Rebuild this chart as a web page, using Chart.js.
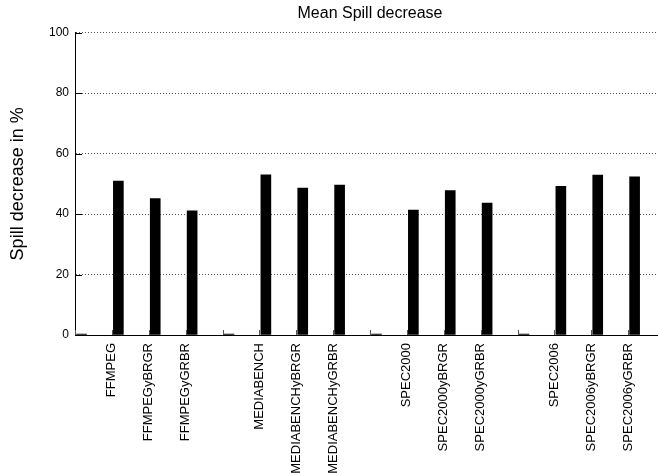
<!DOCTYPE html>
<html>
<head>
<meta charset="utf-8">
<title>Mean Spill decrease</title>
<script src="https://cdn.jsdelivr.net/npm/chart.js@4.4.1/dist/chart.umd.min.js"></script>
<style>
  html, body { margin: 0; padding: 0; background: #fff; overflow: hidden; }
  #clip { width: 658px; height: 473px; overflow: hidden; }
  #wrap { width: 668px; height: 473px; position: relative; }
</style>
</head>
<body>
<div id="clip"><div id="wrap"><canvas id="chart"></canvas></div></div>
<script>
// Benchmark suites, each opened by an unlabeled group slot
const categories = [
  "", "FFMPEG", "FFMPEGyBRGR", "FFMPEGyGRBR",
  "", "MEDIABENCH", "MEDIABENCHyBRGR", "MEDIABENCHyGRBR",
  "", "SPEC2000", "SPEC2000yBRGR", "SPEC2000yGRBR",
  "", "SPEC2006", "SPEC2006yBRGR", "SPEC2006yGRBR"
];
// Mean spill decrease in percent
const spillDecrease = [
  0.3, 50.9, 45.1, 41.1,
  0.3, 53.0, 48.6, 49.6,
  0.3, 41.3, 47.8, 43.6,
  0.3, 49.2, 52.9, 52.3
];
const yTicks = [0, 20, 40, 60, 80, 100];

Chart.defaults.font.family = "'Liberation Sans', Arial, Helvetica, sans-serif";
Chart.defaults.color = '#000';

// gnuplot-style tic marks pointing into the plot
const inwardTicks = {
  id: 'inwardTicks',
  afterDatasetsDraw(chart) {
    const { ctx, chartArea: a, scales } = chart;
    ctx.save();
    ctx.lineWidth = 1;
    ctx.strokeStyle = '#000';
    ctx.beginPath();
    scales.y.ticks.forEach((t, i) => {
      const y = Math.round(scales.y.getPixelForTick(i)) + 0.5;
      ctx.moveTo(a.left, y);
      ctx.lineTo(a.left + 7, y);
    });
    ctx.stroke();
    ctx.strokeStyle = '#555';
    ctx.beginPath();
    scales.x.ticks.forEach((t, i) => {
      const x = Math.round(scales.x.getPixelForTick(i)) + 0.5;
      ctx.moveTo(x, a.bottom);
      ctx.lineTo(x, a.bottom - 5);
    });
    ctx.stroke();
    ctx.restore();
  }
};

new Chart(document.getElementById('chart'), {
  type: 'bar',
  data: {
    labels: categories.concat([""]),
    datasets: [{
      label: 'Mean Spill decrease',
      data: spillDecrease.map((v, i) => ({ x: i, y: v })),
      xAxisID: 'xb',
      backgroundColor: '#000',
      borderWidth: 0,
      barThickness: 10
    }]
  },
  options: {
    responsive: true,
    maintainAspectRatio: false,
    animation: false,
    layout: { padding: { left: 0, right: 3, top: 0, bottom: 0 } },
    plugins: {
      legend: { display: false },
      tooltip: { enabled: false },
      title: {
        display: true,
        text: 'Mean Spill decrease',
        fullSize: false,
        font: { size: 16, weight: 'normal' },
        color: '#000',
        padding: { top: 4, bottom: 9.5 }
      }
    },
    scales: {
      x: {
        type: 'category',
        offset: false,
        grid: { display: false, drawTicks: false },
        border: { display: true, color: '#000', width: 1 },
        ticks: {
          autoSkip: false,
          minRotation: 90,
          maxRotation: 90,
          padding: 8,
          font: { size: 13 },
          color: '#000'
        },
        afterFit(scale) {
          scale.height = 138;
          scale.paddingLeft = 0;
          scale.paddingRight = 0;
        }
      },
      // bars sit just to the right of their tic, histogram style
      xb: {
        type: 'linear',
        display: false,
        min: -0.176,
        max: 15.824,
        offset: false,
        grid: { display: false }
      },
      y: {
        min: 0,
        max: 100,
        afterBuildTicks(scale) { scale.ticks = yTicks.map(v => ({ value: v })); },
        grid: {
          color: '#555',
          lineWidth: 1,
          drawTicks: false
        },
        border: { display: true, color: '#000', width: 1, dash: [1, 2] },
        ticks: {
          padding: 6,
          font: { size: 12 },
          color: '#000'
        },
        title: {
          display: true,
          text: 'Spill decrease in %',
          font: { size: 18 },
          color: '#000',
          padding: { top: 7, bottom: 0 }
        },
        afterFit(scale) {
          scale.width = 75;
          scale.paddingTop = 0;
          scale.paddingBottom = 0;
        }
      }
    }
  },
  plugins: [inwardTicks]
});
</script>
</body>
</html>
